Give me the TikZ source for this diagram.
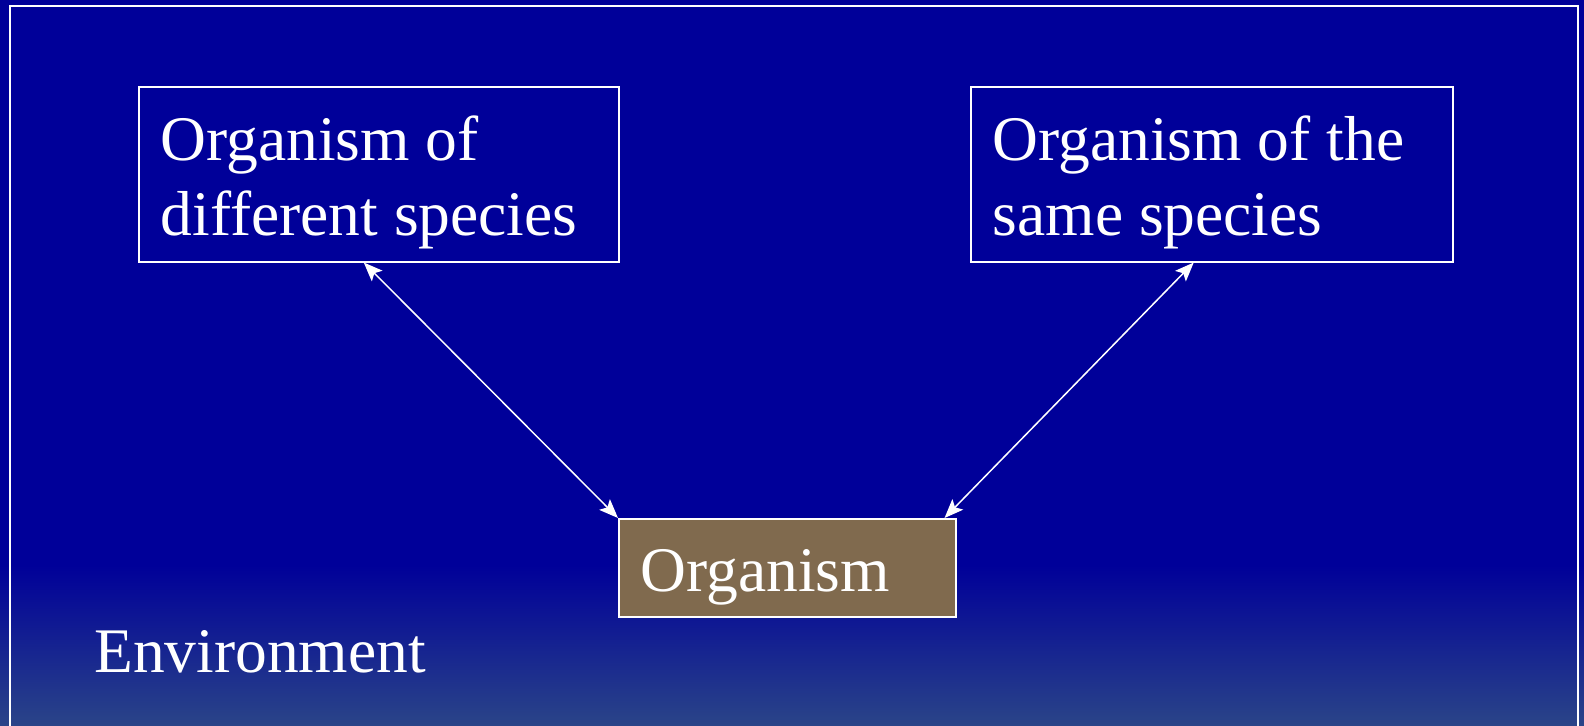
\documentclass[tikz,border=0pt]{standalone}
\usepackage{fontspec}
\setmainfont{Liberation Serif}
\usetikzlibrary{arrows.meta}
\definecolor{slide}{RGB}{0,0,153}
\definecolor{slidelow}{RGB}{42,68,136}
\definecolor{brownbox}{RGB}{128,106,78}

\begin{document}
\begin{tikzpicture}[x=0.5pt, y=-0.5pt,
            box/.style={draw=white, line width=0.75pt, anchor=north west,
                        inner xsep=11pt, inner ysep=0pt, align=flush left, text=white,
                        font=\fontsize{31.75}{37.5}\selectfont},
            arr/.style={{Stealth[length=9.5pt,width=7.5pt,inset=2pt]}-{Stealth[length=9.5pt,width=7.5pt,inset=2pt]},
                        white, line width=0.75pt},
            lab/.style={text=white, inner sep=0pt, font=\fontsize{31.75}{37.5}\selectfont}
        ]

        % Background
        \useasboundingbox (0,0) rectangle (1584,725);
        \fill[slide] (0,0) rectangle (1584,725);
        \shade[top color=slide, bottom color=slidelow] (0,565) rectangle (1584,725);
        \draw[white, line width=1pt] (10,735) |- (1578,6) -- (1578,735);

        % Nodes
        \node[box, text width=218pt, text height=37pt, text depth=50.5pt]
            (diff) at (138,86) {Organism of\\different species};
        \node[box, text width=219pt, text height=37pt, text depth=50.5pt]
            (same) at (970,86) {Organism of the\\same species};
        \node[box, fill=brownbox, text width=146.5pt, text height=36.5pt, text depth=12.5pt]
            (org) at (618,518) {Organism};

        % Environment label
        \node[lab, anchor=base west] (env) at (94,672) {Environment};

        % Interaction arrows
        \draw[arr] ([xshift=-7.5pt]diff.south) -- (org.north west);
        \draw[arr] ([xshift=-9pt]same.south) -- ([xshift=-6pt]org.north east);

        \end{tikzpicture}
\end{document}
